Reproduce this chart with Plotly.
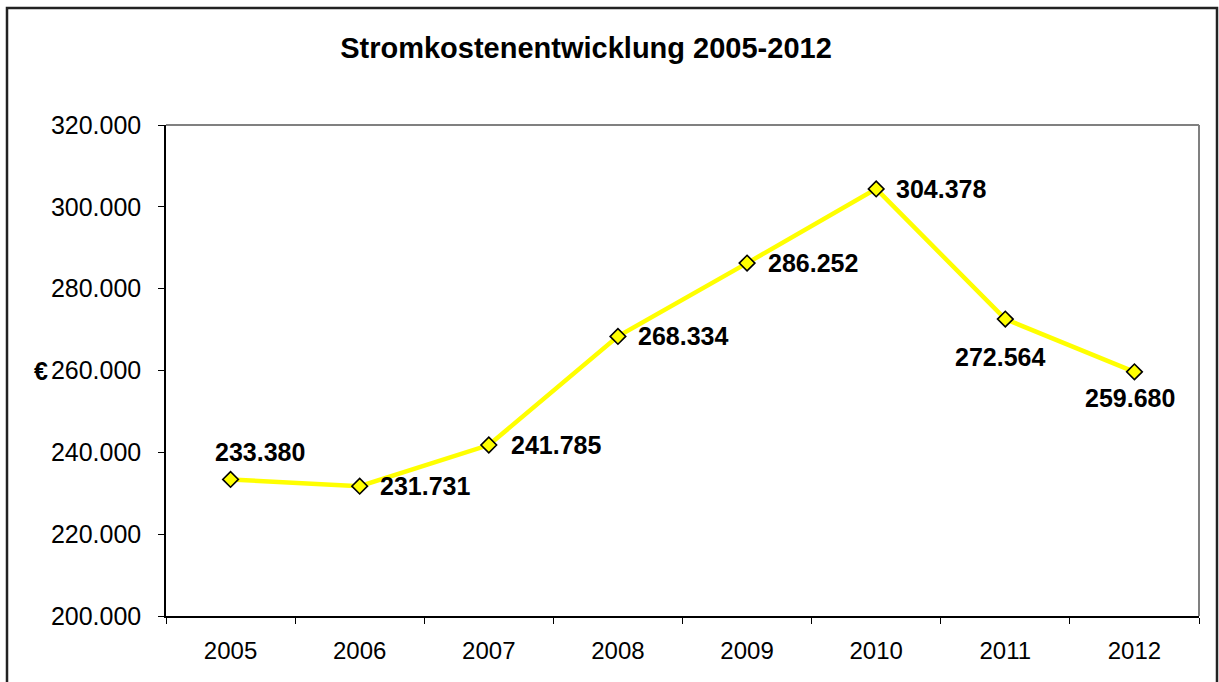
import plotly.graph_objects as go

# Stromkosten pro Jahr (EUR)
years = ["2005", "2006", "2007", "2008", "2009", "2010", "2011", "2012"]
costs = [233380, 231731, 241785, 268334, 286252, 304378, 272564, 259680]

y_ticks = [200000, 220000, 240000, 260000, 280000, 300000, 320000]

# label placement around each marker: (xanchor, xshift, yshift)
label_place = [
    ("center", 29, 27),
    ("left", 18, 0),
    ("left", 20, 0),
    ("left", 18, 0),
    ("left", 19, 0),
    ("left", 18, 0),
    ("center", -5, -38),
    ("center", -4, -26),
]

FONT = "Liberation Sans, Arial, sans-serif"

fig = go.Figure()
fig.add_trace(go.Scatter(
    x=years,
    y=costs,
    mode="lines+markers",
    line=dict(color="#FFFF00", width=4.5),
    marker=dict(symbol="diamond", size=12, color="#FFFF00",
                line=dict(color="#000000", width=1.6)),
    hoverinfo="skip",
    showlegend=False,
))

annotations = []
for i, (val, (anchor, dx, dy)) in enumerate(zip(costs, label_place)):
    # category axis: position by category index
    annotations.append(dict(
        x=i, y=val, xref="x", yref="y",
        text=f"{val:,}".replace(",", "."),
        showarrow=False, xanchor=anchor, yanchor="middle",
        xshift=dx, yshift=dy,
        font=dict(family=FONT, size=25, color="#000000", weight="bold"),
    ))

# euro sign next to the value axis
annotations.append(dict(
    x=0, y=260000, xref="paper", yref="y",
    text="€", showarrow=False, xanchor="right", yanchor="middle",
    xshift=-116, yshift=0,
    font=dict(family=FONT, size=25, color="#000000", weight="bold"),
))

fig.update_layout(
    width=1219, height=682, autosize=False,
    margin=dict(l=166, r=20, t=125, b=66, pad=0),
    paper_bgcolor="#FFFFFF", plot_bgcolor="#FFFFFF",
    separators=",.",
    title=dict(
        text="<b>Stromkostenentwicklung 2005-2012</b>",
        x=586 / 1219, xanchor="center", xref="container",
        y=1 - 48 / 682, yanchor="middle", yref="container",
        font=dict(family=FONT, size=29, color="#000000"),
    ),
    xaxis=dict(
        type="category", range=[-0.5, 7.5],
        showgrid=False, zeroline=False,
        showline=True, linecolor="#000000", linewidth=1.5,
        ticks="outside", tickson="boundaries", ticklen=6,
        tickcolor="#000000", tickwidth=1.2,
        ticklabelstandoff=12,
        tickfont=dict(family=FONT, size=24, color="#000000"),
    ),
    yaxis=dict(
        range=[200000, 320000], tickvals=y_ticks, tickformat=",d",
        showgrid=False, zeroline=False,
        showline=True, linecolor="#000000", linewidth=1.5,
        ticks="outside", ticklen=6, tickcolor="#000000", tickwidth=1.2,
        ticklabelstandoff=12,
        tickfont=dict(family=FONT, size=25, color="#000000"),
    ),
    annotations=annotations,
    shapes=[
        # plot area frame (top and right edges)
        dict(type="line", xref="paper", yref="paper", x0=0, x1=1, y0=1, y1=1,
             line=dict(color="#808080", width=2)),
        dict(type="line", xref="paper", yref="paper", x0=1, x1=1, y0=0, y1=1,
             line=dict(color="#808080", width=2)),
        # outer chart frame
        dict(type="rect", xref="paper", yref="paper",
             x0=(7 - 166) / 1033, x1=(1217 - 166) / 1033,
             y0=(616 - 700) / 491, y1=(616 - 8) / 491,
             line=dict(color="#222222", width=2.5), layer="below"),
    ],
)

fig.write_html("out.html")
